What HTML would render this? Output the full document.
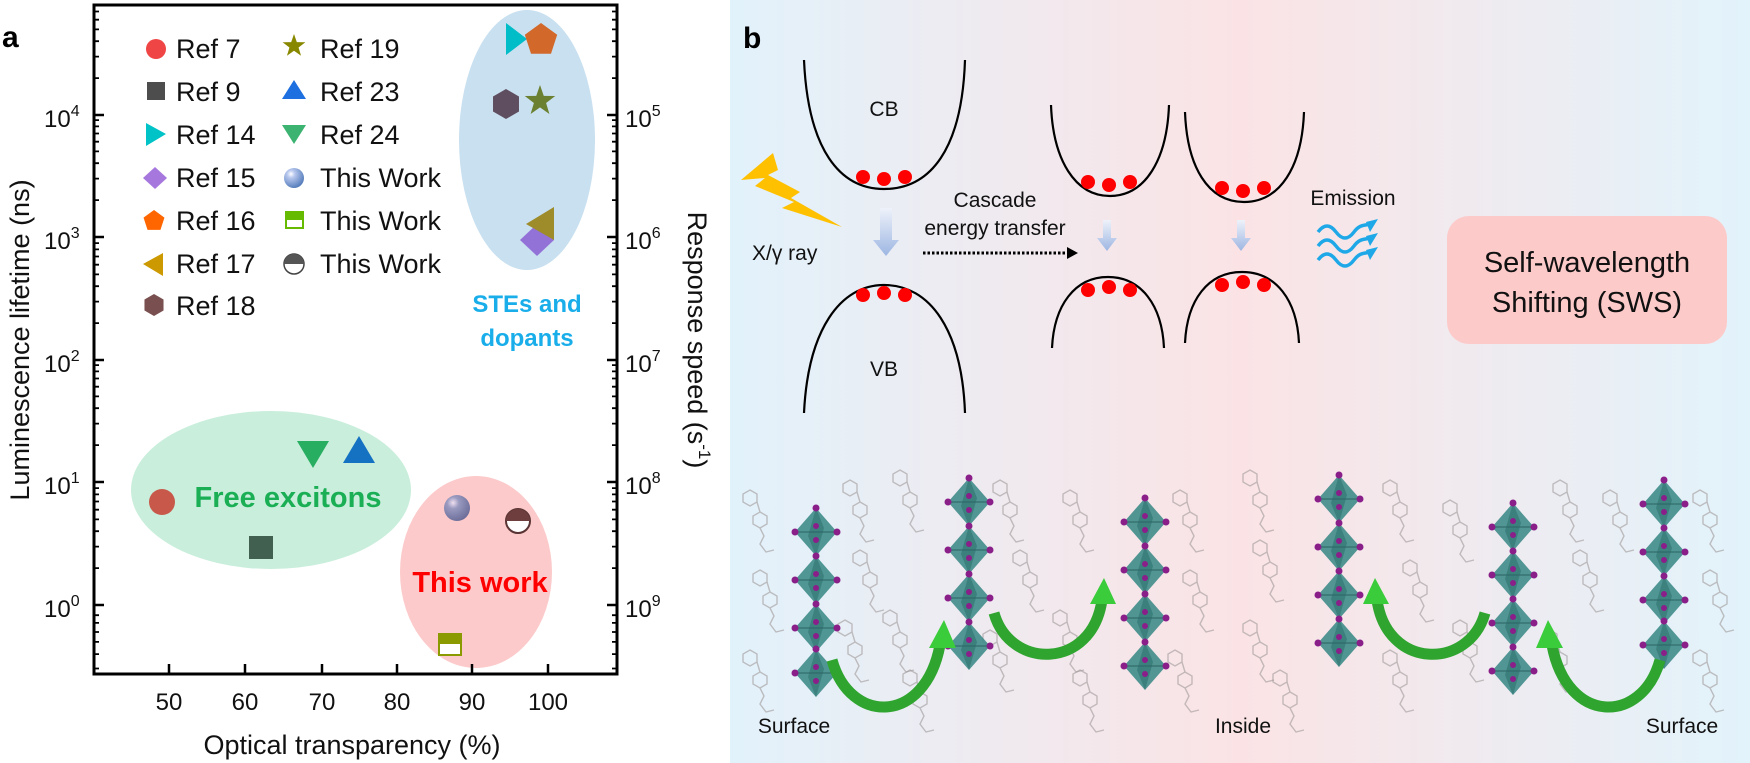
<!DOCTYPE html>
<html><head><meta charset="utf-8">
<style>
html,body{margin:0;padding:0;background:#fff;}
svg{display:block;font-family:"Liberation Sans",Arial,sans-serif;}
</style></head>
<body>
<svg width="1750" height="763" viewBox="0 0 1750 763" xmlns="http://www.w3.org/2000/svg">
<defs>
<radialGradient id="sph" cx="0.35" cy="0.3" r="0.75">
<stop offset="0" stop-color="#ffffff"/><stop offset="0.25" stop-color="#b8c8ee"/><stop offset="1" stop-color="#4f78b8"/></radialGradient>
<radialGradient id="sph2" cx="0.35" cy="0.3" r="0.75">
<stop offset="0" stop-color="#f0e0f0"/><stop offset="0.3" stop-color="#9a9ac0"/><stop offset="1" stop-color="#6a6c98"/></radialGradient>
<linearGradient id="bgb" x1="730" y1="0" x2="1750" y2="0" gradientUnits="userSpaceOnUse">
<stop offset="0" stop-color="#E2F2FB"/><stop offset="0.5" stop-color="#FBE3E5"/><stop offset="1" stop-color="#E2F3FB"/></linearGradient>
<linearGradient id="darr" x1="0" y1="0" x2="0" y2="1">
<stop offset="0" stop-color="#eef2fa"/><stop offset="1" stop-color="#9db6e2"/></linearGradient>
<g id="oct">
<polygon points="0,-24 21,0 0,24 -21,0" fill="#3f8c89" opacity="0.9"/>
<polygon points="0,-24 8,-4 0,24 -8,4" fill="#2f7370" opacity="0.6"/>
<line x1="-21" y1="0" x2="21" y2="0" stroke="#2a6462" stroke-width="1"/>
<circle cx="0" cy="-24" r="3.5" fill="#8a1f8a"/>
<circle cx="21" cy="0" r="3.5" fill="#8a1f8a"/>
<circle cx="-21" cy="0" r="3.5" fill="#8a1f8a"/>
<circle cx="0" cy="-6" r="3" fill="#8a1f8a"/>
<circle cx="0" cy="8" r="3" fill="#8a1f8a"/>
</g>
<g id="mol" fill="none" stroke="#a09a9a" stroke-width="1.4" opacity="0.6">
<polygon points="0,-8 7,-4 7,4 0,8 -7,4 -7,-4"/>
<polyline points="0,8 4,16 0,24 6,32 14,30"/>
<polygon points="-10,-30 -3,-26 -3,-18 -10,-14 -17,-18 -17,-26"/>
<polyline points="-3,-18 0,-8"/>
</g>
</defs>

<!-- ================= PANEL A ================= -->
<rect x="0" y="0" width="730" height="763" fill="#fff"/>
<text x="2" y="47" font-size="30" font-weight="bold">a</text>

<!-- bubbles -->
<ellipse cx="527" cy="140" rx="68" ry="130" fill="#C8E0F0"/>
<ellipse cx="271" cy="490" rx="140" ry="79" fill="#C9EEDC"/>
<ellipse cx="476" cy="572" rx="76" ry="96" fill="#FCCACA"/>

<text x="527" y="312" font-size="24" font-weight="bold" fill="#19AEEA" text-anchor="middle">STEs and</text>
<text x="527" y="346" font-size="24" font-weight="bold" fill="#19AEEA" text-anchor="middle">dopants</text>
<text x="288" y="507" font-size="29" font-weight="bold" fill="#1BAF55" text-anchor="middle">Free excitons</text>
<text x="480" y="592" font-size="29" font-weight="bold" fill="#FF0000" text-anchor="middle">This work</text>

<!-- frame -->
<rect x="94" y="5" width="523" height="669" fill="none" stroke="#000" stroke-width="3"/>

<!-- left axis ticks -->
<g stroke="#000" stroke-width="2.5">
<line x1="94" y1="115" x2="104" y2="115"/><line x1="94" y1="237" x2="104" y2="237"/>
<line x1="94" y1="360" x2="104" y2="360"/><line x1="94" y1="482" x2="104" y2="482"/>
<line x1="94" y1="605" x2="104" y2="605"/>
<line x1="617" y1="115" x2="607" y2="115"/><line x1="617" y1="237" x2="607" y2="237"/>
<line x1="617" y1="360" x2="607" y2="360"/><line x1="617" y1="482" x2="607" y2="482"/>
<line x1="617" y1="605" x2="607" y2="605"/>
</g>
<g stroke="#000" stroke-width="1.8" id="minl">
<!-- decade offsets: log10(2..9)*122.5 = 36.9,58.4,73.8,85.6,95.3,103.5,110.6,116.9 -->
<path d="M94,78.1h5M94,56.6h5M94,41.2h5M94,29.4h5M94,19.7h5M94,11.5h5
M94,200.1h5M94,178.6h5M94,163.2h5M94,151.4h5M94,141.7h5M94,133.5h5M94,126.4h5M94,120.1h5
M94,323.1h5M94,301.6h5M94,286.2h5M94,274.4h5M94,264.7h5M94,256.5h5M94,249.4h5M94,243.1h5
M94,445.1h5M94,423.6h5M94,408.2h5M94,396.4h5M94,386.7h5M94,378.5h5M94,371.4h5M94,365.1h5
M94,568.1h5M94,546.6h5M94,531.2h5M94,519.4h5M94,509.7h5M94,501.5h5M94,494.4h5M94,488.1h5
M94,668.5h5M94,654.1h5M94,641.9h5M94,632.0h5M94,622.9h5M94,615.2h5
M617,78.1h-5M617,56.6h-5M617,41.2h-5M617,29.4h-5M617,19.7h-5M617,11.5h-5
M617,200.1h-5M617,178.6h-5M617,163.2h-5M617,151.4h-5M617,141.7h-5M617,133.5h-5M617,126.4h-5M617,120.1h-5
M617,323.1h-5M617,301.6h-5M617,286.2h-5M617,274.4h-5M617,264.7h-5M617,256.5h-5M617,249.4h-5M617,243.1h-5
M617,445.1h-5M617,423.6h-5M617,408.2h-5M617,396.4h-5M617,386.7h-5M617,378.5h-5M617,371.4h-5M617,365.1h-5
M617,568.1h-5M617,546.6h-5M617,531.2h-5M617,519.4h-5M617,509.7h-5M617,501.5h-5M617,494.4h-5M617,488.1h-5
M617,668.5h-5M617,654.1h-5M617,641.9h-5M617,632.0h-5M617,622.9h-5M617,615.2h-5"/>
</g>
<!-- bottom ticks -->
<g stroke="#000" stroke-width="2.5">
<line x1="169" y1="674" x2="169" y2="664"/><line x1="245" y1="674" x2="245" y2="664"/>
<line x1="322" y1="674" x2="322" y2="664"/><line x1="397" y1="674" x2="397" y2="664"/>
<line x1="472" y1="674" x2="472" y2="664"/><line x1="548" y1="674" x2="548" y2="664"/>
</g>

<!-- tick labels -->
<g font-size="24" fill="#111">
<text x="169" y="710" text-anchor="middle">50</text>
<text x="245" y="710" text-anchor="middle">60</text>
<text x="322" y="710" text-anchor="middle">70</text>
<text x="397" y="710" text-anchor="middle">80</text>
<text x="472" y="710" text-anchor="middle">90</text>
<text x="548" y="710" text-anchor="middle">100</text>
<text x="44" y="127">10<tspan font-size="16" dy="-11">4</tspan></text>
<text x="44" y="249">10<tspan font-size="16" dy="-11">3</tspan></text>
<text x="44" y="372">10<tspan font-size="16" dy="-11">2</tspan></text>
<text x="44" y="494">10<tspan font-size="16" dy="-11">1</tspan></text>
<text x="44" y="617">10<tspan font-size="16" dy="-11">0</tspan></text>
<text x="625" y="127">10<tspan font-size="16" dy="-11">5</tspan></text>
<text x="625" y="249">10<tspan font-size="16" dy="-11">6</tspan></text>
<text x="625" y="372">10<tspan font-size="16" dy="-11">7</tspan></text>
<text x="625" y="494">10<tspan font-size="16" dy="-11">8</tspan></text>
<text x="625" y="617">10<tspan font-size="16" dy="-11">9</tspan></text>
</g>
<text x="352" y="754" font-size="27" text-anchor="middle" fill="#111">Optical transparency (%)</text>
<text transform="translate(29,340) rotate(-90)" font-size="27" text-anchor="middle" fill="#111">Luminescence lifetime (ns)</text>
<text transform="translate(688,340) rotate(90)" font-size="27" text-anchor="middle" fill="#111">Response speed (s<tspan font-size="17" dy="-11">-1</tspan><tspan dy="11">)</tspan></text>

<!-- legend -->
<g font-size="27" fill="#111">
<text x="176" y="58">Ref 7</text>
<text x="176" y="101">Ref 9</text>
<text x="176" y="144">Ref 14</text>
<text x="176" y="187">Ref 15</text>
<text x="176" y="230">Ref 16</text>
<text x="176" y="273">Ref 17</text>
<text x="176" y="315">Ref 18</text>
<text x="320" y="58">Ref 19</text>
<text x="320" y="101">Ref 23</text>
<text x="320" y="144">Ref 24</text>
<text x="320" y="187">This Work</text>
<text x="320" y="230">This Work</text>
<text x="320" y="273">This Work</text>
</g>
<circle cx="156" cy="49" r="10" fill="#F04545"/>
<rect x="147" y="82" width="18" height="18" fill="#4D4D4D"/>
<polygon points="146,123 166,134 146,146" fill="#00C3C8"/>
<polygon points="155,167 167,178 155,189 143,178" fill="#A678DE"/>
<polygon transform="translate(154,221) scale(11)" points="0,-1 0.951,-0.309 0.588,0.809 -0.588,0.809 -0.951,-0.309" fill="#FF6600"/>
<polygon points="163,253 163,276 143,264" fill="#CC9900"/>
<polygon transform="translate(154,305) scale(11)" points="0,-1 0.866,-0.5 0.866,0.5 0,1 -0.866,0.5 -0.866,-0.5" fill="#7A4F4F"/>
<polygon transform="translate(294,46) scale(12)" points="0,-1 0.235,-0.324 0.951,-0.309 0.380,0.124 0.588,0.809 0,0.4 -0.588,0.809 -0.380,0.124 -0.951,-0.309 -0.235,-0.324" fill="#888800"/>
<polygon points="294,80 306,99 282,99" fill="#1E6FE0"/>
<polygon points="282,125 306,125 294,144" fill="#3CB371"/>
<circle cx="294" cy="178" r="10" fill="url(#sph)"/>
<rect x="286" y="212" width="17" height="16" fill="#fff" stroke="#66BB00" stroke-width="2"/>
<rect x="286" y="212" width="17" height="8" fill="#66BB00"/>
<circle cx="294" cy="264" r="10" fill="#fff" stroke="#444" stroke-width="1.5"/>
<path d="M284,264 A10,10 0 0 1 304,264 Z" fill="#555"/>

<!-- data points -->
<polygon points="506,23 527,39 506,55" fill="#00BDC8"/>
<polygon transform="translate(541,40) scale(17)" points="0,-1 0.951,-0.309 0.588,0.809 -0.588,0.809 -0.951,-0.309" fill="#D2692A"/>
<polygon transform="translate(506,104) scale(15)" points="0,-1 0.866,-0.5 0.866,0.5 0,1 -0.866,0.5 -0.866,-0.5" fill="#5F4E60"/>
<polygon transform="translate(540,101) scale(16)" points="0,-1 0.235,-0.324 0.951,-0.309 0.380,0.124 0.588,0.809 0,0.4 -0.588,0.809 -0.380,0.124 -0.951,-0.309 -0.235,-0.324" fill="#6B8030"/>
<polygon points="537,224 554,240 537,256 520,240" fill="#9372D8"/>
<polygon points="554,207 554,240 526,224" fill="#9E8B2A"/>

<polygon points="297,441 329,441 313,468" fill="#27AE60"/>
<polygon points="359,436 375,463 343,463" fill="#1572C2"/>
<circle cx="162" cy="502" r="13" fill="#C8584A"/>
<rect x="249" y="536" width="24" height="23" fill="#42604F"/>
<circle cx="457" cy="508" r="13" fill="url(#sph2)"/>
<circle cx="518" cy="521" r="12" fill="#fff" stroke="#5a3434" stroke-width="2"/>
<path d="M506,521 A12,12 0 0 1 530,521 Z" fill="#6E3E3E"/>
<rect x="439" y="634" width="22" height="21" fill="#fff" stroke="#8B9A00" stroke-width="2"/>
<rect x="439" y="634" width="22" height="10" fill="#8B9A00"/>

<!-- ================= PANEL B ================= -->
<rect x="730" y="0" width="1020" height="763" fill="url(#bgb)"/>
<text x="743" y="48" font-size="30" font-weight="bold">b</text>

<!-- molecules -->
<g>
<use href="#mol" x="760" y="520"/><use href="#mol" x="770" y="600"/><use href="#mol" x="760" y="680"/>
<use href="#mol" x="860" y="510"/><use href="#mol" x="870" y="580"/><use href="#mol" x="855" y="650"/>
<use href="#mol" x="910" y="500"/><use href="#mol" x="900" y="640"/><use href="#mol" x="920" y="700"/>
<use href="#mol" x="1010" y="510"/><use href="#mol" x="1030" y="580"/><use href="#mol" x="1000" y="660"/>
<use href="#mol" x="1080" y="520"/><use href="#mol" x="1070" y="640"/><use href="#mol" x="1090" y="700"/>
<use href="#mol" x="1190" y="520"/><use href="#mol" x="1200" y="600"/><use href="#mol" x="1185" y="680"/>
<use href="#mol" x="1260" y="500"/><use href="#mol" x="1270" y="570"/><use href="#mol" x="1260" y="650"/>
<use href="#mol" x="1290" y="700"/><use href="#mol" x="1400" y="510"/><use href="#mol" x="1420" y="590"/>
<use href="#mol" x="1400" y="680"/><use href="#mol" x="1460" y="530"/><use href="#mol" x="1470" y="650"/>
<use href="#mol" x="1570" y="510"/><use href="#mol" x="1590" y="580"/><use href="#mol" x="1560" y="660"/>
<use href="#mol" x="1620" y="520"/><use href="#mol" x="1710" y="520"/><use href="#mol" x="1720" y="600"/>
<use href="#mol" x="1710" y="680"/>
</g>

<!-- octahedra chains -->
<g>
<use href="#oct" x="816" y="532"/><use href="#oct" x="816" y="580"/><use href="#oct" x="816" y="628"/><use href="#oct" x="816" y="673"/>
<use href="#oct" x="969" y="502"/><use href="#oct" x="969" y="550"/><use href="#oct" x="969" y="598"/><use href="#oct" x="969" y="646"/>
<use href="#oct" x="1145" y="522"/><use href="#oct" x="1145" y="570"/><use href="#oct" x="1145" y="618"/><use href="#oct" x="1145" y="666"/>
<use href="#oct" x="1339" y="499"/><use href="#oct" x="1339" y="547"/><use href="#oct" x="1339" y="595"/><use href="#oct" x="1339" y="643"/>
<use href="#oct" x="1513" y="527"/><use href="#oct" x="1513" y="575"/><use href="#oct" x="1513" y="623"/><use href="#oct" x="1513" y="671"/>
<use href="#oct" x="1664" y="504"/><use href="#oct" x="1664" y="552"/><use href="#oct" x="1664" y="600"/><use href="#oct" x="1664" y="645"/>
</g>

<!-- green arrows -->
<g fill="none" stroke="#2FA52F" stroke-width="11" stroke-linecap="butt">
<path d="M832,660 C850,725 925,725 940,645"/>
<path d="M994,613 C1010,670 1092,670 1102,600"/>
<path d="M1485,613 C1469,670 1387,670 1377,600"/>
<path d="M1660,660 C1642,725 1567,725 1552,645"/>
</g>
<g fill="#3ACC3A">
<polygon points="944,620 929,648 956,648"/>
<polygon points="1104,578 1090,604 1116,604"/>
<polygon points="1375,578 1363,604 1389,604"/>
<polygon points="1548,620 1536,648 1563,648"/>
</g>

<!-- band diagram -->
<g fill="none" stroke="#000" stroke-width="2.2">
<path d="M804,60 C808,150 840,189 884,189 C930,189 962,150 965,60"/>
<path d="M804,413 C808,330 840,285 884,285 C930,285 962,330 965,413"/>
<path d="M1051,105 C1053,160 1075,196 1110,196 C1145,196 1167,160 1169,105"/>
<path d="M1185,112 C1187,167 1208,202 1244,202 C1280,202 1302,167 1304,112"/>
<path d="M1052,348 C1054,305 1075,277 1108,277 C1141,277 1162,305 1164,348"/>
<path d="M1185,343 C1187,300 1208,272 1242,272 C1276,272 1297,300 1299,343"/>
</g>
<g fill="#FF0000">
<ellipse cx="863" cy="177" rx="7" ry="7"/><ellipse cx="884" cy="179" rx="7" ry="7"/><ellipse cx="905" cy="177" rx="7" ry="7"/>
<ellipse cx="863" cy="295" rx="7" ry="7"/><ellipse cx="884" cy="293" rx="7" ry="7"/><ellipse cx="905" cy="295" rx="7" ry="7"/>
<ellipse cx="1088" cy="182" rx="7" ry="7"/><ellipse cx="1109" cy="185" rx="7" ry="7"/><ellipse cx="1130" cy="182" rx="7" ry="7"/>
<ellipse cx="1222" cy="188" rx="7" ry="7"/><ellipse cx="1243" cy="191" rx="7" ry="7"/><ellipse cx="1264" cy="188" rx="7" ry="7"/>
<ellipse cx="1088" cy="290" rx="7" ry="7"/><ellipse cx="1109" cy="287" rx="7" ry="7"/><ellipse cx="1130" cy="290" rx="7" ry="7"/>
<ellipse cx="1222" cy="285" rx="7" ry="7"/><ellipse cx="1243" cy="282" rx="7" ry="7"/><ellipse cx="1264" cy="285" rx="7" ry="7"/>
</g>
<g font-size="21" fill="#111">
<text x="884" y="116" text-anchor="middle">CB</text>
<text x="884" y="376" text-anchor="middle">VB</text>
<text x="752" y="260">X/γ ray</text>
<text x="995" y="207" text-anchor="middle">Cascade</text>
<text x="995" y="235" text-anchor="middle">energy transfer</text>
<text x="1353" y="205" text-anchor="middle">Emission</text>
</g>
<!-- lightning -->
<polygon points="741,180 773,153 778,170 768,175 800,192 791,198 842,227 782,208 794,202 755,186 765,178" fill="#FFC000"/>
<!-- blue arrows -->
<polygon points="880,208 892,208 892,240 899,240 886,256 873,240 880,240" fill="url(#darr)"/>
<polygon points="1103,220 1111,220 1111,238 1117,238 1107,251 1097,238 1103,238" fill="url(#darr)"/>
<polygon points="1237,220 1245,220 1245,238 1251,238 1241,251 1231,238 1237,238" fill="url(#darr)"/>
<!-- dotted arrow -->
<line x1="923" y1="253" x2="1068" y2="253" stroke="#000" stroke-width="3" stroke-dasharray="2.5,2"/>
<polygon points="1067,247 1078,253 1067,259" fill="#000"/>
<!-- waves -->
<g fill="none" stroke="#1EA8E8" stroke-width="3.5">
<path d="M1318,232 c6,-8 12,-8 18,0 s12,8 18,0 s10,-6 16,-8"/>
<path d="M1318,246 c6,-8 12,-8 18,0 s12,8 18,0 s10,-6 16,-8"/>
<path d="M1318,260 c6,-8 12,-8 18,0 s12,8 18,0 s10,-6 16,-8"/>
</g>
<g fill="#1EA8E8">
<polygon points="1378,219 1370,232 1366,222"/>
<polygon points="1378,233 1370,246 1366,236"/>
<polygon points="1378,247 1370,260 1366,250"/>
</g>
<!-- SWS box -->
<rect x="1447" y="216" width="280" height="128" rx="22" fill="#FDCACA"/>
<text x="1587" y="272" font-size="29" text-anchor="middle" fill="#111">Self-wavelength</text>
<text x="1587" y="312" font-size="29" text-anchor="middle" fill="#111">Shifting (SWS)</text>

<g font-size="21" fill="#111">
<text x="794" y="733" text-anchor="middle">Surface</text>
<text x="1243" y="733" text-anchor="middle">Inside</text>
<text x="1682" y="733" text-anchor="middle">Surface</text>
</g>
</svg>
</body></html>
